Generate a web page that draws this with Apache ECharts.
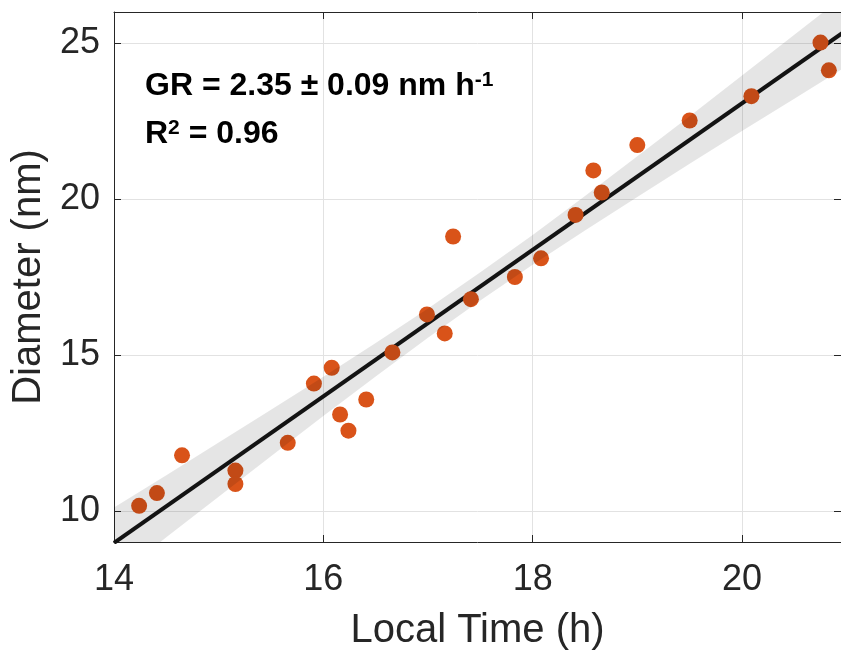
<!DOCTYPE html>
<html>
<head>
<meta charset="utf-8">
<script src="https://cdn.jsdelivr.net/npm/echarts@6/dist/echarts.min.js"></script>
<style>html,body{margin:0;padding:0;background:#fff}#c{width:841px;height:651px}</style>
</head>
<body>
<div id="c"></div>
<script>
// Observations (local time in h, diameter in nm)
var timeH = [14.24, 14.41, 14.65, 15.16, 15.16, 15.66, 15.91, 16.08, 16.16, 16.24, 16.41, 16.66, 16.99, 17.16, 17.24, 17.41, 17.83, 18.08, 18.41, 18.58, 18.66, 19.00, 19.50, 20.09, 20.75, 20.83];
var diamNm = [10.16, 10.57, 11.78, 11.29, 10.86, 12.18, 14.08, 14.59, 13.09, 12.57, 13.57, 15.08, 16.30, 15.69, 18.80, 16.79, 17.50, 18.10, 19.49, 20.92, 20.21, 21.73, 22.52, 23.30, 25.02, 24.13];
// Linear fit (end points)
var fitX = [14, 21];
var fitY = [8.97, 25.42];
// Confidence band
var bandX = [14, 14.5, 15, 15.5, 16, 16.5, 17, 17.5, 18, 18.5, 19, 19.5, 20, 20.5, 21];
var bandLow = [7.83, 9.15, 10.45, 11.75, 13.04, 14.31, 15.55, 16.75, 17.89, 18.99, 20.07, 21.13, 22.18, 23.22, 24.26];
var bandHigh = [10.11, 11.14, 12.19, 13.24, 14.30, 15.38, 16.49, 17.65, 18.85, 20.10, 21.37, 22.66, 23.96, 25.27, 26.58];
// Ticks
var xTicks = [14, 16, 18, 20];
var yTicks = [10, 15, 20, 25];

var FONT = 'Liberation Sans, Arial, Helvetica, sans-serif';
var AX = '#262626';

var scatterData = timeH.map(function (t, i) { return [t, diamNm[i]]; });
var fitData = fitX.map(function (t, i) { return [t, fitY[i]]; });

var chart = echarts.init(document.getElementById('c'), null, { renderer: 'canvas' });

function xAxisCfg(pos, showLabel) {
  return {
    type: 'value', position: pos, min: 14, max: 20.946,
    axisLine: { show: true, onZero: false, lineStyle: { color: AX, width: 1 } },
    axisTick: { show: true, inside: true, length: 7, customValues: xTicks, lineStyle: { color: AX, width: 1 } },
    axisLabel: { show: showLabel, customValues: xTicks, fontSize: 36, color: AX, fontFamily: FONT, margin: 20 },
    splitLine: { show: showLabel, lineStyle: { color: '#e2e2e2', width: 1 } },
    name: showLabel ? 'Local Time (h)' : '',
    nameLocation: 'middle', nameGap: 69,
    nameTextStyle: { fontSize: 40, color: AX, fontFamily: FONT }
  };
}
function yAxisCfg(pos, showLabel) {
  return {
    type: 'value', position: pos, min: 9, max: 26,
    axisLine: { show: true, onZero: false, lineStyle: { color: AX, width: 1 } },
    axisTick: { show: true, inside: true, length: 7, customValues: yTicks, lineStyle: { color: AX, width: 1 } },
    axisLabel: { show: showLabel, customValues: yTicks, fontSize: 36, color: AX, fontFamily: FONT, margin: 14 },
    splitLine: { show: showLabel, lineStyle: { color: '#e2e2e2', width: 1 } },
    name: showLabel ? 'Diameter (nm)' : '',
    nameLocation: 'middle', nameGap: 57,
    nameTextStyle: { fontSize: 40, color: AX, fontFamily: FONT }
  };
}

function renderBand(params, api) {
  var pts = [];
  var i;
  for (i = 0; i < bandX.length; i++) pts.push(api.coord([bandX[i], bandHigh[i]]));
  for (i = bandX.length - 1; i >= 0; i--) pts.push(api.coord([bandX[i], bandLow[i]]));
  var cs = params.coordSys;
  return {
    type: 'group',
    children: [{
      type: 'polygon',
      shape: { points: pts },
      style: { fill: 'rgba(0,0,0,0.1)', stroke: 'none' }
    }],
    clipPath: { type: 'rect', shape: { x: cs.x, y: cs.y, width: cs.width, height: cs.height } }
  };
}

chart.setOption({
  animation: false,
  backgroundColor: '#ffffff',
  grid: { left: 114, right: 0, top: 12, bottom: 109, containLabel: false, outerBoundsMode: 'none' },
  xAxis: [xAxisCfg('bottom', true), xAxisCfg('top', false)],
  yAxis: [yAxisCfg('left', true), yAxisCfg('right', false)],
  series: [
    {
      type: 'line', data: fitData, symbol: 'none', z: 2,
      lineStyle: { color: '#161616', width: 4 }, clip: true
    },
    {
      type: 'scatter', data: scatterData, symbol: 'circle', symbolSize: 16, z: 3,
      itemStyle: { color: '#D95319', opacity: 1 }, clip: true
    },
    {
      type: 'custom', data: [[bandX[0], bandLow[0]]], z: 4, clip: true,
      renderItem: renderBand, silent: true
    }
  ],
  graphic: [
    {
      type: 'text', left: 145, top: 70, z: 10,
      style: {
        text: '{m|GR = 2.35 ± 0.09 nm h}{s|-1}',
        rich: {
          m: { fontSize: 32, fontWeight: 'bold', fontFamily: FONT, fill: '#000', lineHeight: 32 },
          s: { fontSize: 21, fontWeight: 'bold', fontFamily: FONT, fill: '#000', lineHeight: 14, verticalAlign: 'top' }
        }
      }
    },
    {
      type: 'text', left: 145, top: 118, z: 10,
      style: {
        text: '{m|R}{s|2}{m| = 0.96}',
        rich: {
          m: { fontSize: 32, fontWeight: 'bold', fontFamily: FONT, fill: '#000', lineHeight: 32 },
          s: { fontSize: 21, fontWeight: 'bold', fontFamily: FONT, fill: '#000', lineHeight: 14, verticalAlign: 'top' }
        }
      }
    }
  ]
});
</script>
</body>
</html>
